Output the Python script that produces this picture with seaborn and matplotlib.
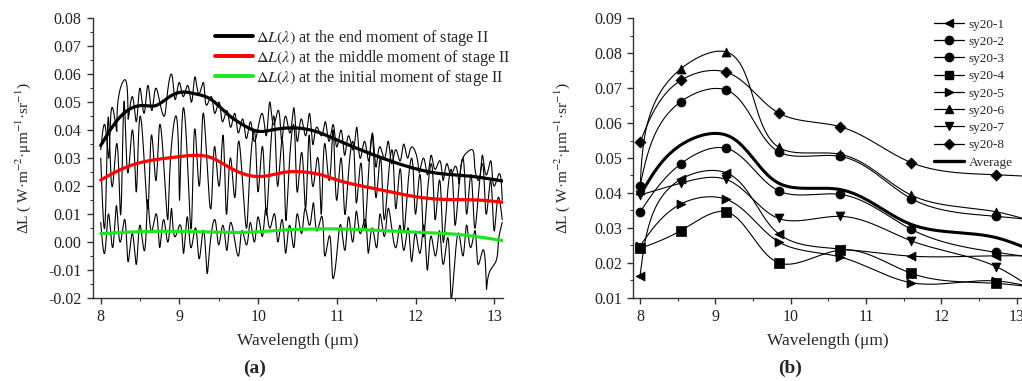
import numpy as np
import pandas as pd
import matplotlib
matplotlib.use("Agg")
import matplotlib.pyplot as plt
from matplotlib.lines import Line2D
from matplotlib.ticker import MultipleLocator, FormatStrFormatter
import seaborn as sns

# ---------------- data: panel (a) ----------------
wl_noise = np.round(np.arange(8.0, 13.1001, 0.05), 2)  # 103 wavelengths

noise_end = [
    .033, .042, .030, .048, .040, .055, .058, .044, .052, .043,
    .055, .046, .056, .047, .055, .050, .045, .054, .060, .051,
    .057, .052, .056, .050, .059, .053, .057, .049, .052, .046,
    .050, .043, .047, .041, .046, .039, .044, .037, .043, .036,
    .041, .046, .038, .050, .042, .047, .036, .045, .039, .048,
    .036, .044, .038, .046, .035, .041, .038, .043, .036, .042,
    .034, .040, .031, .038, .033, .041, .030, .036, .029, .039,
    .027, .034, .030, .036, .028, .033, .029, .035, .030, .034,
    .032, .025, .030, .024, .031, .026, .029, .022, .028, .024,
    .027, .021, .030, .032, .033, .027, .022, .031, .024, .029,
    .020, .024, .015]
noise_mid = [
    .030, .005, .044, .020, .035, .010, .050, .025, .040, .018,
    .045, .030, .012, .038, .022, .042, .028, .008, .035, .045,
    .015, .048, .030, .005, .040, .020, .046, .028, .012, .034,
    .020, .038, .010, .030, .016, .036, .022, .005, .028, .040,
    .018, .034, .010, .030, .045, .020, .036, .008, .030, .042,
    .018, .032, .012, .038, .020, .030, .010, .035, .022, .040,
    .015, .030, .010, .026, .036, .014, .028, .005, .024, .038,
    .016, .030, .008, .022, .033, .012, .026, .004, .020, .030,
    .010, .024, .002, .018, .028, .008, .022, .000, .016, .026,
    .006, .020, .030, .010, .024, .005, .018, .028, .010, .022,
    .004, .016, .008]
noise_ini = [
    .007, -.004, .010, -.002, .013, .000, .008, -.007, .003, -.008,
    .006, -.003, .015, .004, .010, -.002, .008, .000, .012, .002,
    .006, -.004, .009, -.002, .005, -.006, .004, -.011, .002, .008,
    -.001, .006, -.003, .007, .001, -.005, .004, -.001, .007, .000,
    .009, .002, .012, .005, .010, .000, .008, -.004, .006, -.002,
    .010, .003, .012, .006, .014, .004, .009, -.005, .002, -.013,
    -.004, .006, -.003, .009, .000, .011, .003, .008, -.004, .005,
    -.002, .010, .002, .012, .004, -.002, .006, -.003, .005, -.007,
    .003, -.004, .006, -.010, .002, -.005, .004, -.008, .001, -.020,
    -.006, .003, -.005, .006, -.002, .004, -.008, -.003, -.017, -.010,
    -.008, .000, .007]

wl_end = [8.0, 8.2, 8.4, 8.55, 8.7, 8.85, 9.0, 9.2, 9.4, 9.6, 9.8, 10.0,
          10.2, 10.45, 10.7, 11.0, 11.5, 12.0, 12.3, 12.6, 13.11]
smooth_end = [.0345, .0432, .0480, .0488, .0488, .0515, .0535, .0530, .0510,
              .0460, .0420, .0396, .0402, .0408, .0398, .0365, .0308, .0262,
              .0245, .0238, .0218]
wl_mid = [8.0, 8.3, 8.6, 8.9, 9.2, 9.4, 9.6, 9.9, 10.1, 10.3, 10.6, 10.8,
          11.0, 11.5, 12.0, 12.4, 12.8, 13.11]
smooth_mid = [.0222, .0265, .0290, .0302, .0310, .0302, .0272, .0237, .0236,
              .0248, .0250, .0240, .0222, .0190, .0162, .0152, .0150, .0142]
wl_ini = [8.0, 8.5, 9.0, 9.5, 9.9, 10.3, 10.6, 11.0, 11.5, 12.0, 12.5, 13.11]
smooth_ini = [.0030, .0037, .0038, .0035, .0035, .0043, .0046, .0047, .0042,
              .0035, .0028, .0005]

legend_a = [r"$\Delta L(\lambda)$ at the end moment of stage II",
            r"$\Delta L(\lambda)$ at the middle moment of stage II",
            r"$\Delta L(\lambda)$ at the initial moment of stage II"]

# ---------------- data: panel (b) ----------------
wl_b = [8.0, 8.54, 9.14, 9.84, 10.65, 11.6, 12.73, 13.12]   # last = value at right edge
sy1 = [.0162, .0439, .0458, .0283, .0240, .0219, .0220, .0220]
sy2 = [.0345, .0483, .0528, .0406, .0396, .0296, .0230, .0218]
sy3 = [.0420, .0661, .0695, .0518, .0505, .0384, .0333, .0325]
sy4 = [.0241, .0292, .0346, .0200, .0236, .0170, .0141, .0133]
sy5 = [.0248, .0368, .0382, .0260, .0217, .0143, .0148, .0135]
sy6 = [.0408, .0755, .0804, .0531, .0511, .0394, .0346, .0325]
sy7 = [.0394, .0428, .0439, .0327, .0333, .0263, .0189, .0140]
sy8 = [.0545, .0722, .0746, .0629, .0590, .0487, .0452, .0448]
avg = [.0392, .0537, .0566, .0428, .0410, .0310, .0272, .0243]
names_b = ["sy20-1", "sy20-2", "sy20-3", "sy20-4", "sy20-5", "sy20-6", "sy20-7", "sy20-8"]
series_b = [sy1, sy2, sy3, sy4, sy5, sy6, sy7, sy8]
markers_b = ["<", "o", "o", "s", ">", "^", "v", "D"]


def natural_coeffs(t, y):
    t = np.asarray(t, float); y = np.asarray(y, float)
    m = len(t); h = np.diff(t)
    A = np.zeros((m, m)); b = np.zeros(m)
    A[0, 0] = 1; A[-1, -1] = 1
    for i in range(1, m - 1):
        A[i, i - 1] = h[i - 1]; A[i, i] = 2 * (h[i - 1] + h[i]); A[i, i + 1] = h[i]
        b[i] = 3 * ((y[i + 1] - y[i]) / h[i] - (y[i] - y[i - 1]) / h[i - 1])
    c = np.linalg.solve(A, b)
    bc = (y[1:] - y[:-1]) / h - h * (2 * c[:-1] + c[1:]) / 3
    d = (c[1:] - c[:-1]) / (3 * h)
    return t, y, bc, c, d


def evaluate(coef, ts):
    t, y, bc, c, d = coef
    idx = np.clip(np.searchsorted(t, ts) - 1, 0, len(t) - 2)
    dt = ts - t[idx]
    return y[idx] + bc[idx] * dt + c[idx] * dt ** 2 + d[idx] * dt ** 3


def spline(x, y, n=600):
    """natural cubic spline y(x) used to draw smooth connecting lines"""
    coef = natural_coeffs(x, y)
    xs = np.linspace(x[0], x[-1], n)
    return xs, evaluate(coef, xs)


def pspline(x, y, sx, sy, n=800):
    """parametric (chord-length, screen space) spline used to draw smooth lines"""
    X = np.asarray(x, float) * sx; Y = np.asarray(y, float) * sy
    t = np.concatenate([[0], np.cumsum(np.hypot(np.diff(X), np.diff(Y)))])
    ts = np.linspace(0, t[-1], n)
    xs = evaluate(natural_coeffs(t, X), ts) / sx
    ys = evaluate(natural_coeffs(t, Y), ts) / sy
    return xs, ys


sns.set_theme(style="ticks")
plt.rcParams.update({
    "font.family": ["Liberation Serif", "DejaVu Serif"],
    "mathtext.fontset": "stix",
    "axes.edgecolor": "#333333",
    "axes.linewidth": 1.0,
    "xtick.color": "#333333", "ytick.color": "#333333",
    "xtick.labelcolor": "#222222", "ytick.labelcolor": "#222222",
    "xtick.direction": "out", "ytick.direction": "out",
    "xtick.major.size": 4.5, "ytick.major.size": 4.5,
    "xtick.minor.size": 2.5, "ytick.minor.size": 2.5,
    "xtick.major.width": 1.0, "ytick.major.width": 1.0,
    "xtick.minor.width": 0.8, "ytick.minor.width": 0.8,
    "xtick.labelsize": 11.5, "ytick.labelsize": 11.5,
})

fig = plt.figure(figsize=(10.22, 3.81), dpi=100)
axa = fig.add_axes([0.0907, 0.218, 0.4015, 0.734])
axb = fig.add_axes([0.6194, 0.2186, 0.3806, 0.7334])

ylab = "ΔL ( W·m$^{-2}$·μm$^{-1}$·sr$^{-1}$)"

# ---- panel (a)
for vals in (noise_end, noise_mid, noise_ini):
    xs, ys = pspline(wl_noise, vals, 78.7, 2797.0, n=3000)
    sns.lineplot(x=xs, y=ys, ax=axa, color="black", lw=0.8,
                 estimator=None, sort=False)
cols_a = ["black", "#ff0000", "#1ee61e"]
for (xk, yk), col in zip([(wl_end, smooth_end), (wl_mid, smooth_mid), (wl_ini, smooth_ini)], cols_a):
    xs, ys = spline(xk, yk)
    sns.lineplot(x=xs, y=ys, ax=axa, color=col, lw=2.3, estimator=None, sort=False)

axa.set_xlim(7.898, 13.11)
axa.set_ylim(-0.02, 0.08)
axa.xaxis.set_major_locator(MultipleLocator(1))
axa.xaxis.set_minor_locator(MultipleLocator(0.5))
axa.yaxis.set_major_locator(MultipleLocator(0.01))
axa.yaxis.set_minor_locator(MultipleLocator(0.005))
axa.yaxis.set_major_formatter(FormatStrFormatter("%.2f"))
axa.set_xlabel("Wavelength (μm)", fontsize=12.5, labelpad=6)
axa.set_ylabel(ylab, fontsize=11, labelpad=11)
sns.despine(ax=axa)
ha = [Line2D([], [], color=c, lw=2.8) for c in cols_a]
axa.legend(ha, legend_a, loc="upper left", bbox_to_anchor=(0.297, 0.967),
           frameon=False, fontsize=11.6, handlelength=2.4, handletextpad=0.15,
           labelspacing=0.0, borderpad=0, borderaxespad=0)

# ---- panel (b)
SX, SY = 75.3, 3492.5
handles_b = []
for vals, mk in zip(series_b, markers_b):
    xs, ys = pspline(wl_b, vals, SX, SY)
    sns.lineplot(x=xs, y=ys, ax=axb, color="black", lw=0.8, estimator=None, sort=False)
    dfm = pd.DataFrame({"x": wl_b[:-1], "y": vals[:-1]})
    sns.scatterplot(data=dfm, x="x", y="y", ax=axb, marker=mk, color="black",
                    s=42 if mk != "D" else 32, edgecolor="black", linewidth=0.5, zorder=3)
    handles_b.append(Line2D([], [], color="black", lw=0.9, marker=mk,
                            markersize=6 if mk != "D" else 5.5))
xs, ys = pspline(wl_b, avg, SX, SY)
sns.lineplot(x=xs, y=ys, ax=axb, color="black", lw=2.2, estimator=None, sort=False)
handles_b.append(Line2D([], [], color="black", lw=2.4))

axb.set_xlim(7.907, 13.073)
axb.set_ylim(0.01, 0.09)
axb.xaxis.set_major_locator(MultipleLocator(1))
axb.xaxis.set_minor_locator(MultipleLocator(0.5))
axb.yaxis.set_major_locator(MultipleLocator(0.01))
axb.yaxis.set_minor_locator(MultipleLocator(0.005))
axb.yaxis.set_major_formatter(FormatStrFormatter("%.2f"))
axb.set_xlabel("Wavelength (μm)", fontsize=12.5, labelpad=6)
axb.set_ylabel(ylab, fontsize=11, labelpad=16)
sns.despine(ax=axb)
axb.legend(handles_b, names_b + ["Average"], loc="upper left",
           bbox_to_anchor=(0.773, 1.0), frameon=False, fontsize=9.5,
           handlelength=2.3, handletextpad=0.35, labelspacing=0.38,
           borderpad=0, borderaxespad=0)

fig.text(0.2495, 0.034, "(a)", ha="center", va="center", fontsize=14, fontweight="bold")
fig.text(0.773, 0.034, "(b)", ha="center", va="center", fontsize=14, fontweight="bold")

fig.savefig("out.png", dpi=100)
